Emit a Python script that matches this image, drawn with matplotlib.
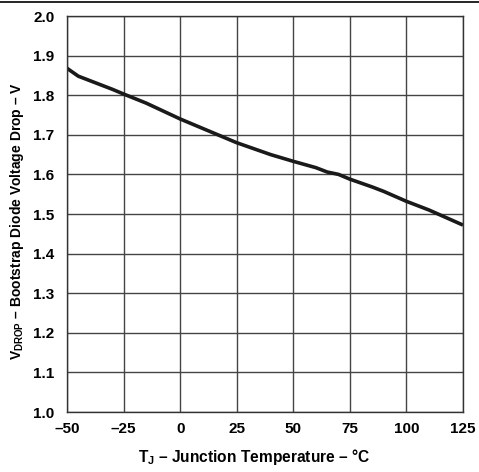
import numpy as np
import matplotlib
matplotlib.use('Agg')
import matplotlib.pyplot as plt
from matplotlib.lines import Line2D

plt.rcParams['font.family'] = ['Liberation Sans', 'DejaVu Sans']
plt.rcParams['mathtext.fontset'] = 'custom'
plt.rcParams['mathtext.rm'] = 'Liberation Sans:bold'
plt.rcParams['mathtext.bf'] = 'Liberation Sans:bold'
plt.rcParams['mathtext.it'] = 'Liberation Sans:bold'

# junction temperature (C) and bootstrap diode drop (V)
temp = [-50, -45, -40, -30, -25, -15, 0, 10, 25, 40, 50, 60, 65, 70, 75, 85, 90, 100, 110, 125]
vdrop = [1.868, 1.848, 1.837, 1.815, 1.803, 1.780, 1.740, 1.716, 1.680, 1.650,
         1.633, 1.617, 1.606, 1.600, 1.588, 1.568, 1.557, 1.532, 1.510, 1.472]

xticks = [-50, -25, 0, 25, 50, 75, 100, 125]
yticks = [1.0, 1.1, 1.2, 1.3, 1.4, 1.5, 1.6, 1.7, 1.8, 1.9, 2.0]

fig = plt.figure(figsize=(4.79, 4.72), dpi=100)
ax = fig.add_axes([67 / 479, 1 - 412 / 472, 396 / 479, 396 / 472])

ax.plot(temp, vdrop, color='#1a1a1a', linewidth=2.6, solid_capstyle='butt')

ax.set_xlim(-50, 125)
ax.set_ylim(1.0, 2.0)
ax.set_xticks(xticks)
ax.set_yticks(yticks)
ax.set_xticklabels([f'{v}'.replace('-', '\u2013') for v in xticks])
ax.set_yticklabels([f'{v:.1f}' for v in yticks])
ax.grid(True, color='#444444', linewidth=1.0)
ax.set_axisbelow(True)
for s in ax.spines.values():
    s.set_color('#333333')
    s.set_linewidth(1.0)
ax.tick_params(length=0, labelsize=11)
ax.tick_params(axis='y', pad=9)
ax.tick_params(axis='x', pad=7)
for lbl in ax.get_xticklabels() + ax.get_yticklabels():
    lbl.set_fontweight('bold')

fig.text(254 / 479, 1 - 457 / 472, 'T$_\\mathrm{J}$ \u2013 Junction Temperature \u2013 \u00b0C',
         fontsize=11.2, fontweight='bold', ha='center', va='center')
fig.text(17 / 479, 1 - 221 / 472, 'V$_\\mathrm{DROP}$ \u2013 Bootstrap Diode Voltage Drop \u2013 V',
         fontsize=10, fontweight='bold', ha='center', va='center', rotation=90)

# rule across the top of the page
fig.add_artist(Line2D([0, 1], [1 - 1.5 / 472] * 2, color='black', linewidth=1.2))

fig.savefig('out.png', dpi=100)
